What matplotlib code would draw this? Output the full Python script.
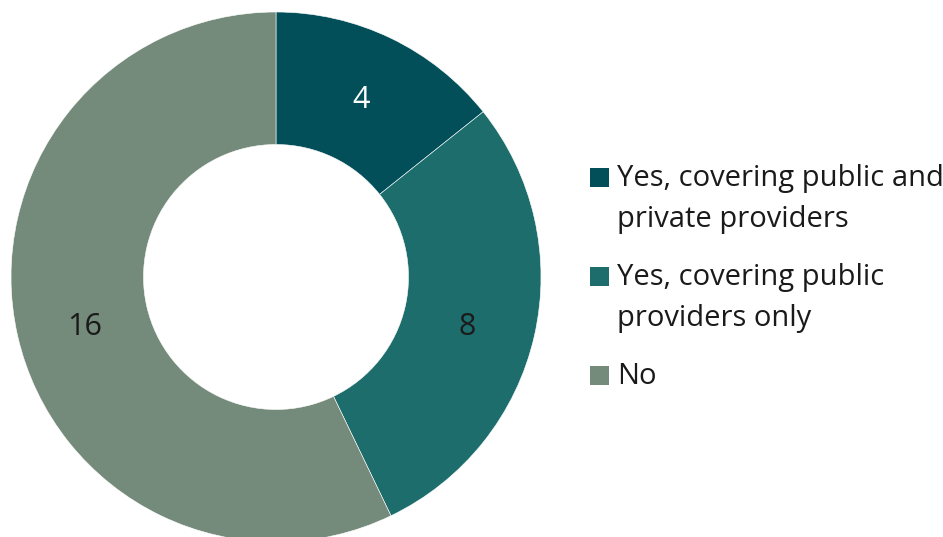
import matplotlib.pyplot as plt
from matplotlib.patches import Rectangle

labels = ["Yes, covering public and\nprivate providers",
          "Yes, covering public\nproviders only",
          "No"]
counts = [4, 8, 16]
colors = ["#024F5A", "#1C6D6B", "#748B7B"]
label_colors = ["white", "#1a1a1a", "#1a1a1a"]

plt.rcParams['font.family'] = ['Open Sans', 'DejaVu Sans']

W, H = 943, 537
fig = plt.figure(figsize=(W / 100, H / 100), dpi=100)
ax = fig.add_axes([0, 0, 1, 1])

# donut, working in pixel units so the layout is easy to place
cx, cy, R = 276, H - 277, 265
wedges, texts = ax.pie(counts, colors=colors, startangle=90, counterclock=False,
                       radius=R, center=(cx, cy),
                       labels=[str(c) for c in counts], labeldistance=0.74,
                       wedgeprops=dict(width=R * 0.5, edgecolor="white", linewidth=0.4),
                       textprops=dict(fontsize=22))
for t, c in zip(texts, label_colors):
    t.set_color(c)
    t.set_ha("center")
    t.set_va("center")
    if c != "white":
        x, y = t.get_position()
        t.set_position((x, y - 6))

# legend drawn by hand: square marker next to the first line of each entry
lx, ly = 590, H - 177
sq = 19
line_h = 41
gap = 58
for lab, col in zip(labels, colors):
    ax.add_patch(Rectangle((lx, ly - sq / 2), sq, sq, color=col, lw=0))
    ax.text(lx + sq + 8, ly + 13, lab, fontsize=21, color="#1a1a1a",
            va="top", ha="left", linespacing=1.56)
    n = lab.count("\n") + 1
    ly -= (n - 1) * line_h + gap

ax.set_xlim(0, W)
ax.set_ylim(0, H)
ax.set_aspect("equal")
ax.axis("off")

fig.savefig("out.png", dpi=100)
